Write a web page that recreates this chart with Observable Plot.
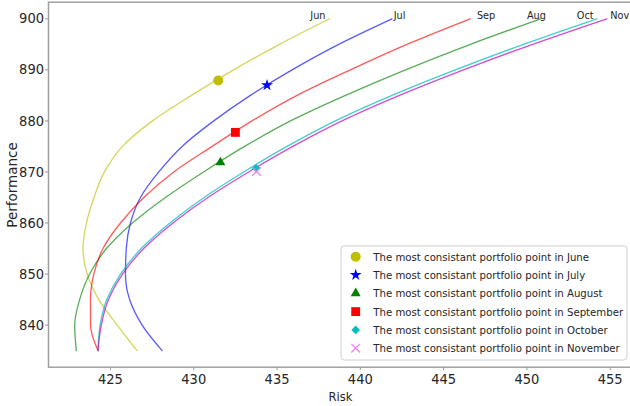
<!DOCTYPE html>
<html>
<head>
<meta charset="utf-8">
<script src="https://cdn.jsdelivr.net/npm/d3@7"></script>
<script src="https://cdn.jsdelivr.net/npm/@observablehq/plot@0.6"></script>
<style>
html, body { margin: 0; padding: 0; background: #fff; overflow: hidden; }
#wrap { position: relative; width: 630px; height: 406px; overflow: hidden; }
#overlay { position: absolute; left: 0; top: 0; pointer-events: none; }
</style>
</head>
<body>
<div id="wrap"></div>
<script>
// ---------- data ----------
const perfLevels = [835, 840, 845, 850, 855, 860, 865, 870, 875, 880, 885, 890, 895, 900];

const months = ["Jun", "Jul", "Aug", "Sep", "Oct", "Nov"];
const monthNames = ["June", "July", "August", "September", "October", "November"];

const riskJun = [426.6, 425.4, 424.3, 423.6, 423.35, 423.56, 424.01, 424.64, 425.72, 427.52, 429.86, 432.39, 435.15, 438.15];
const riskJul = [428.1, 426.9, 426.15, 425.9, 425.95, 426.2, 426.8, 427.9, 429.3, 431.2, 433.4, 435.9, 438.7, 441.9];
const riskAug = [422.95, 422.85, 423.15, 423.75, 424.76, 426.32, 428.3, 430.59, 433.05, 435.81, 439.11, 442.71, 446.61, 450.82];
const riskSep = [424.25, 423.8, 423.8, 424.0, 424.55, 425.6, 427.0, 428.8, 431.1, 433.5, 436.2, 439.4, 442.8, 446.6];
const riskOct = [424.25, 424.38, 424.78, 425.6, 426.85, 428.57, 430.62, 433.0, 435.6, 438.5, 441.9, 445.7, 449.8, 454.2];
const riskNov = [424.25, 424.45, 424.88, 425.72, 427.0, 428.75, 430.85, 433.3, 435.95, 438.9, 442.35, 446.2, 450.35, 454.8];

// most consistent portfolio points
const bestRisk = [431.47, 434.4, 431.6, 432.5, 433.75, 433.77];
const bestPerf = [887.9, 887.0, 871.85, 877.75, 870.7, 870.1];

// month annotations at the top of the curves
const labelRisk = [437, 442, 450, 447, 453, 455];
const labelPerf = [900, 900, 900, 900, 900, 900];

const xTicks = [425, 430, 435, 440, 445, 450, 455];
const yTicks = [840, 850, 860, 870, 880, 890, 900];

// ---------- styling ----------
const riskSeries = [riskJun, riskJul, riskAug, riskSep, riskOct, riskNov];
const lineColors = ["#bfbf00", "#0000ff", "#008000", "#ff0000", "#00bfbf", "#bf00bf"];
const lineOpacity = [0.65, 0.65, 0.65, 0.65, 0.75, 0.7];
const markerColors = ["#bfbf00", "#0000ff", "#008000", "#ff0000", "#00bfbf", "#ee82ee"];
const markerSymbols = ["circle", "star", "triangle", "square", "diamond2", "times"];
const markerR = [5, 3.7, 3.7, 5.0, 3.9, 4.0];

const FONT = "'DejaVu Sans Condensed', 'DejaVu Sans', sans-serif";
const TEXT = "#262626";

const curves = months.map((m, i) => perfLevels.map((p, j) => ({month: m, risk: riskSeries[i][j], perf: p})));
const best = months.map((m, i) => ({month: m, risk: bestRisk[i], perf: bestPerf[i]}));
const labels = months.map((m, i) => ({month: m, risk: labelRisk[i], perf: labelPerf[i]}));

const marks = [];
curves.forEach((c, i) => {
  marks.push(Plot.line(c, {x: "risk", y: "perf", curve: "monotone-y",
    stroke: lineColors[i], strokeOpacity: lineOpacity[i], strokeWidth: 1.3}));
});
best.forEach((b, i) => {
  const sym = markerSymbols[i];
  const opts = {x: "risk", y: "perf", symbol: sym, r: markerR[i]};
  if (sym === "times") { opts.stroke = markerColors[i]; opts.strokeWidth = 1.3; opts.fill = "none"; }
  else { opts.fill = markerColors[i]; opts.stroke = "none"; }
  marks.push(Plot.dot([b], opts));
});
marks.push(Plot.text(labels, {x: "risk", y: "perf", text: "month", textAnchor: "start",
  lineAnchor: "bottom", fontSize: 10.8, fill: TEXT, fontFamily: FONT}));
marks.push(Plot.axisX({ticks: xTicks, tickSize: 3.5, tickPadding: 3, fontSize: 14.5,
  stroke: "#999", fill: TEXT, label: null, fontFamily: FONT}));
marks.push(Plot.axisY({ticks: yTicks, tickSize: 3, tickPadding: 1.5, fontSize: 14.5,
  stroke: "#999", fill: TEXT, label: null, fontFamily: FONT}));
marks.push(Plot.frame({stroke: "#a0a0a0", strokeWidth: 1.5}));

const chart = Plot.plot({
  width: 630,
  height: 406,
  marginLeft: 48,
  marginRight: -3,
  marginTop: 1.7,
  marginBottom: 39.3,
  style: {fontFamily: FONT, background: "#fff", overflow: "hidden"},
  x: {domain: [421.28, 456.4], label: null},
  y: {domain: [831.75, 903.25], label: null},
  marks
});
const wrap = document.getElementById("wrap");
wrap.appendChild(chart);

// ---------- axis titles and legend overlay ----------
const ov = d3.select(wrap).append("svg").attr("id", "overlay")
  .attr("width", 630).attr("height", 406);

ov.append("text").text("Risk")
  .attr("x", 340.5).attr("y", 400.7).attr("text-anchor", "middle")
  .attr("font-family", FONT).attr("font-size", 12.8).attr("fill", TEXT);

ov.append("text").text("Performance")
  .attr("transform", "translate(16.7,185) rotate(-90)").attr("text-anchor", "middle")
  .attr("font-family", "'DejaVu Sans', sans-serif").attr("font-size", 13.5).attr("fill", TEXT);

const lg = ov.append("g");
lg.append("rect").attr("x", 341).attr("y", 246).attr("width", 286).attr("height", 114)
  .attr("rx", 3).attr("fill", "#fff").attr("fill-opacity", 0.85)
  .attr("stroke", "#d0d0d0").attr("stroke-width", 1);

const d3Sym = {circle: d3.symbolCircle, star: d3.symbolStar, triangle: d3.symbolTriangle,
  square: d3.symbolSquare, diamond2: d3.symbolDiamond2, times: d3.symbolTimes};

monthNames.forEach((name, i) => {
  const yc = 256.7 + i * 18.3;
  const sym = markerSymbols[i];
  const path = d3.symbol(d3Sym[sym], Math.PI * markerR[i] * markerR[i])();
  const p = lg.append("path").attr("d", path).attr("transform", `translate(355.7,${yc})`);
  if (sym === "times") p.attr("fill", "none").attr("stroke", markerColors[i]).attr("stroke-width", 1.3);
  else p.attr("fill", markerColors[i]);
  lg.append("text").text("The most consistant portfolio point in " + name)
    .attr("x", 373.3).attr("y", yc + 4)
    .attr("font-family", FONT).attr("font-size", 11.3).attr("fill", TEXT);
});
</script>
</body>
</html>
